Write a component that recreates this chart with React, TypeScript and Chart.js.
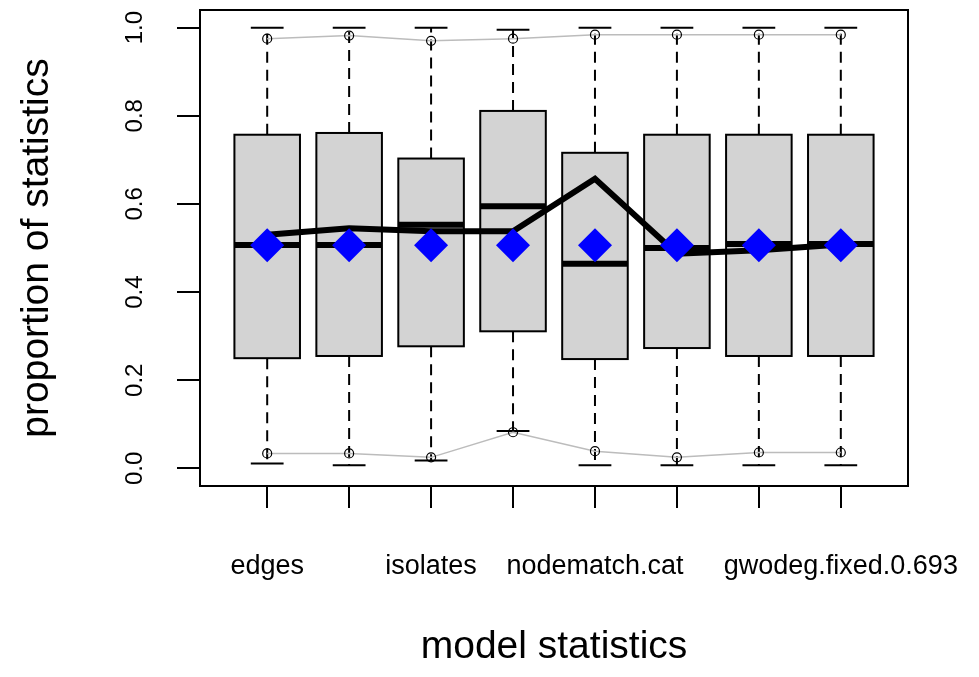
import React, { useEffect, useRef } from "react";
import { Chart, registerables } from "chart.js";

Chart.register(...registerables);

// ---- data ----
const positions = [1, 2, 3, 4, 5, 6, 7, 8];
const xLabels = ["edges", "", "isolates", "", "nodematch.cat", "", "", "gwodeg.fixed.0.693"];
const yTicks = [0, 0.2, 0.4, 0.6, 0.8, 1.0];

const whiskerLow = [0.011, 0.007, 0.018, 0.085, 0.007, 0.007, 0.007, 0.007];
const q1 = [0.25, 0.255, 0.277, 0.311, 0.248, 0.273, 0.255, 0.255];
const median = [0.507, 0.507, 0.553, 0.595, 0.464, 0.5, 0.509, 0.509];
const q3 = [0.757, 0.761, 0.703, 0.811, 0.716, 0.757, 0.757, 0.757];
const whiskerHigh = [1.0, 1.0, 1.0, 0.995, 1.0, 1.0, 1.0, 1.0];

const upperBand = [0.975, 0.982, 0.97, 0.975, 0.984, 0.984, 0.984, 0.984];
const lowerBand = [0.034, 0.034, 0.025, 0.082, 0.039, 0.025, 0.036, 0.036];
const meanLine = [0.53, 0.545, 0.538, 0.538, 0.657, 0.487, 0.495, 0.508];
const observed = [0.506, 0.506, 0.506, 0.506, 0.506, 0.506, 0.506, 0.506];

const FONT = "'Liberation Sans', Arial, sans-serif";
const BOX_HALF = 0.4;
const CAP_HALF = 0.2;

const boxPlugin = {
  id: "boxes",
  beforeDatasetsDraw(chart: any) {
    const { ctx, scales } = chart;
    const x = scales.x;
    const y = scales.y;
    ctx.save();
    for (let i = 0; i < positions.length; i++) {
      const p = positions[i];
      const cx = x.getPixelForValue(p);
      const l = x.getPixelForValue(p - BOX_HALF);
      const r = x.getPixelForValue(p + BOX_HALF);
      const cl = x.getPixelForValue(p - CAP_HALF);
      const cr = x.getPixelForValue(p + CAP_HALF);
      const yLo = y.getPixelForValue(whiskerLow[i]);
      const yQ1 = y.getPixelForValue(q1[i]);
      const yMed = y.getPixelForValue(median[i]);
      const yQ3 = y.getPixelForValue(q3[i]);
      const yHi = y.getPixelForValue(whiskerHigh[i]);

      ctx.strokeStyle = "#000";
      ctx.lineWidth = 2;
      ctx.setLineDash([11, 7]);
      ctx.beginPath();
      ctx.moveTo(cx, yQ3);
      ctx.lineTo(cx, yHi);
      ctx.moveTo(cx, yQ1);
      ctx.lineTo(cx, yLo);
      ctx.stroke();
      ctx.setLineDash([]);

      ctx.beginPath();
      ctx.moveTo(cl, yHi);
      ctx.lineTo(cr, yHi);
      ctx.moveTo(cl, yLo);
      ctx.lineTo(cr, yLo);
      ctx.stroke();

      ctx.fillStyle = "#d3d3d3";
      ctx.fillRect(l, yQ3, r - l, yQ1 - yQ3);
      ctx.strokeRect(l, yQ3, r - l, yQ1 - yQ3);

      ctx.lineWidth = 6;
      ctx.beginPath();
      ctx.moveTo(l, yMed);
      ctx.lineTo(r, yMed);
      ctx.stroke();
    }
    ctx.restore();
  },
  afterDraw(chart: any) {
    const { ctx, chartArea } = chart;
    ctx.save();
    ctx.strokeStyle = "#000";
    ctx.lineWidth = 2;
    ctx.strokeRect(chartArea.left, chartArea.top, chartArea.right - chartArea.left, chartArea.bottom - chartArea.top);
    ctx.restore();
  },
};

const zeroPad = (s: any) => {
  s.paddingLeft = 0;
  s.paddingRight = 0;
  s.paddingTop = 0;
  s.paddingBottom = 0;
};

export default function App() {
  const ref = useRef<HTMLCanvasElement | null>(null);

  useEffect(() => {
    document.body.style.margin = "0";
    const canvas = ref.current;
    if (!canvas) return;
    const toPts = (arr: number[]) => positions.map((p, i) => ({ x: p, y: arr[i] }));
    const chart = new Chart(canvas, {
      type: "line",
      data: {
        datasets: [
          {
            label: "observed",
            data: toPts(observed),
            showLine: false,
            pointStyle: "rectRot",
            pointRadius: 17,
            pointHoverRadius: 17,
            backgroundColor: "#0000ff",
            borderColor: "#0000ff",
            pointBorderWidth: 0,
            order: 0,
          },
          {
            label: "mean",
            data: toPts(meanLine),
            borderColor: "#000",
            borderWidth: 6,
            pointRadius: 0,
            tension: 0,
            order: 1,
          },
          {
            label: "upper",
            data: toPts(upperBand),
            borderColor: "#bcbcbc",
            borderWidth: 1.5,
            pointRadius: 4.5,
            pointBorderColor: "#000",
            pointBackgroundColor: "rgba(0,0,0,0)",
            pointBorderWidth: 1.2,
            order: 2,
          },
          {
            label: "lower",
            data: toPts(lowerBand),
            borderColor: "#bcbcbc",
            borderWidth: 1.5,
            pointRadius: 4.5,
            pointBorderColor: "#000",
            pointBackgroundColor: "rgba(0,0,0,0)",
            pointBorderWidth: 1.2,
            order: 2,
          },
        ],
      },
      options: {
        responsive: false,
        animation: false,
        events: [],
        layout: { autoPadding: false, padding: { left: 0, right: 71, top: 10, bottom: 0 } },
        plugins: {
          legend: { display: false },
          tooltip: { enabled: false },
        },
        scales: {
          x: {
            type: "linear",
            min: 0.18,
            max: 8.82,
            afterBuildTicks: (s: any) => {
              s.ticks = positions.map((v) => ({ value: v }));
            },
            afterFit: (s: any) => {
              s.height = 191;
              zeroPad(s);
            },
            ticks: {
              autoSkip: false,
              maxRotation: 0,
              minRotation: 0,
              padding: 42,
              color: "#000",
              font: { family: FONT, size: 27 },
              callback: (v: any) => xLabels[positions.indexOf(Number(v))] ?? "",
            },
            grid: { drawOnChartArea: false, drawTicks: true, tickLength: 22, color: "#000", lineWidth: 2 },
            border: { display: true, color: "#000", width: 2 },
            title: {
              display: true,
              text: "model statistics",
              color: "#000",
              font: { family: FONT, size: 39 },
              padding: { bottom: 6 },
            },
          },
          y: {
            type: "linear",
            min: -0.04,
            max: 1.04,
            afterBuildTicks: (s: any) => {
              s.ticks = yTicks.map((v) => ({ value: v }));
            },
            afterFit: (s: any) => {
              s.width = 200;
              zeroPad(s);
            },
            ticks: {
              minRotation: 90,
              maxRotation: 90,
              crossAlign: "center",
              padding: 25,
              color: "#000",
              font: { family: FONT, size: 24 },
              callback: (v: any) => Number(v).toFixed(1),
            },
            grid: { drawOnChartArea: false, drawTicks: true, tickLength: 23, color: "#000", lineWidth: 2 },
            border: { display: true, color: "#000", width: 2 },
            title: {
              display: true,
              text: "proportion of statistics",
              color: "#000",
              font: { family: FONT, size: 39 },
              padding: { top: 14 },
            },
          },
        },
      },
      plugins: [boxPlugin],
    } as any);
    return () => chart.destroy();
  }, []);

  return (
    <div style={{ position: "absolute", left: 0, top: 0, width: 979, height: 677, background: "#fff" }}>
      <canvas ref={ref} width={979} height={677} style={{ display: "block" }} />
    </div>
  );
}
